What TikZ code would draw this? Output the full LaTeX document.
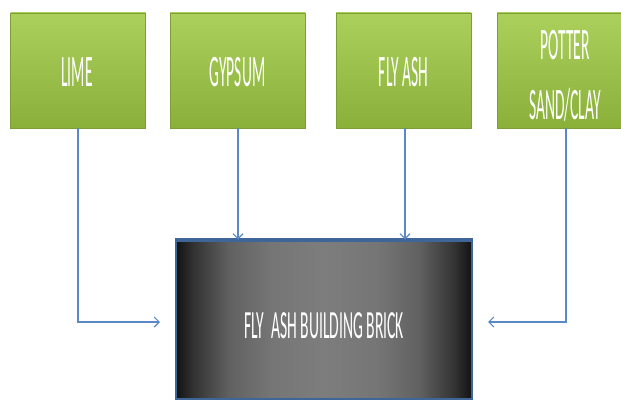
\documentclass[tikz,border=0pt]{standalone}
\usepackage{fontspec}
\setmainfont{Carlito}
\usetikzlibrary{arrows.meta}
\definecolor{grtop}{HTML}{ABD05C}
\definecolor{grbot}{HTML}{8AB03A}
\definecolor{grline}{HTML}{7C9E34}
\definecolor{arrblue}{HTML}{5B88C9}
\definecolor{brickline}{HTML}{3F6699}
\pgfdeclarehorizontalshading{brickshade}{100bp}{
  color(0bp)=(black!93); color(25bp)=(black!93); color(28bp)=(black!80);
  color(34bp)=(black!62); color(41bp)=(black!54); color(50bp)=(black!51);
  color(59bp)=(black!54); color(66bp)=(black!62); color(72bp)=(black!80);
  color(75bp)=(black!93); color(100bp)=(black!93)}
\newcommand\sqz[1]{\scalebox{0.345}[1]{#1}}
\newcommand\sqzb[1]{\scalebox{0.39}[1]{#1}}
\tikzset{
  greenbox/.style={draw=grline, line width=0.8pt, top color=grtop, bottom color=grbot,
    minimum width=135pt, minimum height=115pt, inner sep=0pt},
  greenlabel/.style={text=white, font=\fontsize{45}{60}\selectfont, align=center, inner sep=0pt},
  brickbox/.style={draw=brickline, line width=2pt, shading=brickshade,
    minimum width=296pt, minimum height=158pt, inner sep=0pt},
  feed/.style={draw=arrblue, line width=1.1pt, -{Straight Barb[length=5pt,width=10pt,line width=1.1pt]}}
}
\begin{document}
\begin{tikzpicture}[x=1pt,y=-1pt]
\useasboundingbox (0,0) rectangle (621,401);
\node[greenbox] (lime) at (78,70.5) {};
\node[greenbox] (gyp) at (237.5,70.5) {};
\node[greenbox] (fly) at (403.5,70.5) {};
\node[greenbox, minimum width=138pt] (pot) at (566,70.5) {};
\node[greenlabel] (limet) at (77,72.5) {\sqz{LIME}};
\node[greenlabel] (gypt) at (237.5,72.5) {\sqz{GYPSUM}};
\node[greenlabel] (flyt) at (403.5,72.5) {\sqz{FLY ASH}};
\node[greenlabel] (pott) at (565,76) {\sqz{POTTER}\\\sqz{SAND/CLAY}};
\node[brickbox] (brick) at (324,319.5) {};
\node[text=white, font=\fontsize{40}{44}\selectfont, inner sep=0pt] (bricklabel) at (324,326) {\sqzb{FLY\ \ ASH BUILDING BRICK}};
\draw[brickline, line width=3.5pt] (brick.north west) -- (brick.north east);
\coordinate (limeend) at (160,322);
\coordinate (potend) at (488,322);
\draw[feed] (lime.south) |- (limeend);
\draw[feed] (pot.south) |- (potend);
\draw[feed] (gyp.south -| 238,0) -- (brick.north -| 238,0);
\draw[feed] (fly.south -| 405,0) -- (brick.north -| 405,0);
\end{tikzpicture}
\end{document}
